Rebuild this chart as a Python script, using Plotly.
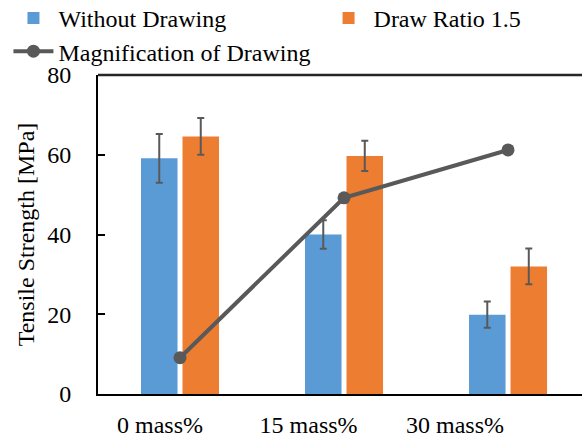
import plotly.graph_objects as go

categories = ["0 mass%", "15 mass%", "30 mass%"]
without_drawing = [59.1, 40.0, 19.9]
without_err = [6.1, 3.6, 3.3]
draw_ratio = [64.6, 59.7, 32.0]
draw_err = [4.6, 3.8, 4.5]
magnification = [9.1, 49.2, 61.2]

x_idx = list(range(len(categories)))
label_pos = [-0.122, 0.784, 1.677]

BLUE = "#5B9BD5"
ORANGE = "#ED7D31"
GREY = "#595959"
FONT = "Liberation Serif"

fig = go.Figure()
fig.add_trace(go.Bar(
    x=x_idx, y=without_drawing, name="Without Drawing", legend="legend",
    marker=dict(color=BLUE, line=dict(width=0)),
    error_y=dict(type="data", array=without_err, color=GREY, thickness=2, width=3.5),
))
fig.add_trace(go.Bar(
    x=x_idx, y=draw_ratio, name="Draw Ratio 1.5", legend="legend2",
    marker=dict(color=ORANGE, line=dict(width=0)),
    error_y=dict(type="data", array=draw_err, color=GREY, thickness=2, width=3.5),
))
fig.add_trace(go.Scatter(
    x=x_idx, y=magnification, name="Magnification of Drawing", legend="legend3",
    mode="lines+markers",
    line=dict(color=GREY, width=4),
    marker=dict(color=GREY, size=13),
))

leg_common = dict(
    orientation="h", xanchor="left", yanchor="top",
    font=dict(family=FONT, size=24, color="black"),
    itemwidth=40, bgcolor="rgba(0,0,0,0)",
)

fig.update_layout(
    template="none",
    width=582, height=439,
    margin=dict(l=98, r=0, t=75, b=45, autoexpand=False),
    paper_bgcolor="white", plot_bgcolor="white",
    font=dict(family=FONT, size=24, color="black"),
    barmode="group", bargap=0.494, bargroupgap=0.12,
    showlegend=True,
    legend=dict(x=-0.185, y=1.2476, **leg_common),
    legend2=dict(x=0.466, y=1.2476, **leg_common),
    legend3=dict(x=-0.185, y=1.144, **leg_common),
    xaxis=dict(
        range=[-0.5, 2.451], automargin=False,
        showline=True, linecolor="black", linewidth=2, mirror=False,
        tickvals=label_pos, ticktext=categories,
        ticks="", showgrid=False, zeroline=False,
        ticklabelstandoff=8,
        tickfont=dict(family=FONT, size=24, color="black"),
    ),
    yaxis=dict(
        range=[0, 80], dtick=20, automargin=False,
        showline=True, linecolor="black", linewidth=2, mirror=False,
        ticks="inside", ticklen=7, tickwidth=2, tickcolor="black",
        showgrid=False, zeroline=False,
        ticklabelstandoff=20,
        tickfont=dict(family=FONT, size=24, color="black"),
        title=dict(text="Tensile Strength [MPa]", standoff=6,
                   font=dict(family=FONT, size=24, color="black")),
    ),
    shapes=[dict(type="line", xref="paper", yref="paper", x0=0, x1=1, y0=1, y1=1,
                 line=dict(color="#262626", width=2.5))],
)

fig.write_html("out.html")
